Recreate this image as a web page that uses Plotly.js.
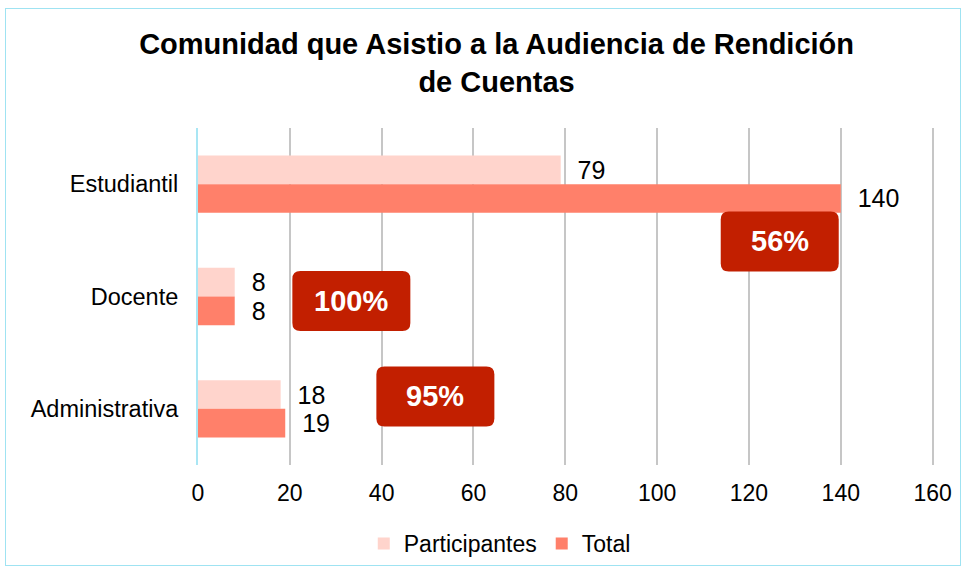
<!DOCTYPE html>
<html>
<head>
<meta charset="utf-8">
<script src="https://cdn.plot.ly/plotly-3.0.1.min.js"></script>
<style>
  html, body { margin: 0; padding: 0; background: #fff; }
  #frame { position: absolute; left: 5px; top: 8px; width: 956px; height: 558px; border: 1px solid #9fe3f2; box-sizing: border-box; }
  #chart { position: absolute; left: 0; top: 0; width: 968px; height: 573px; }
</style>
</head>
<body>
<div id="frame"></div>
<div id="chart"></div>
<script>
const categories = ['Estudiantil', 'Docente', 'Administrativa'];
const participantes = [79, 8, 18];
const total = [140, 8, 19];
const percentLabels = ['56%', '100%', '95%'];
// callout anchor positions (x in value units, y in category index units)
const calloutX = [126.7, 33.4, 51.7];
const calloutY = [0.51, 1.04, 1.89];

const FONT = '"Liberation Sans", Arial, sans-serif';
const RED = '#C21F00';
const PAD = '\u00a0\u00a0';

const traces = [
  {
    type: 'bar', orientation: 'h', name: 'Participantes',
    y: categories, x: participantes,
    marker: { color: '#FFD4CC' },
    text: participantes.map(v => PAD + v), textposition: 'outside',
    textfont: { family: FONT, size: 25, color: '#000' },
    cliponaxis: false
  },
  {
    type: 'bar', orientation: 'h', name: 'Total',
    y: categories, x: total,
    marker: { color: '#FF806A' },
    text: total.map(v => PAD + v), textposition: 'outside',
    textfont: { family: FONT, size: 25, color: '#000' },
    cliponaxis: false
  }
];

const shapes = [];
const annotations = [];
for (let i = 0; i < percentLabels.length; i++) {
  const w = 59, h = 30, r = 8;
  shapes.push({
    type: 'path', xref: 'x', yref: 'y',
    xsizemode: 'pixel', ysizemode: 'pixel',
    xanchor: calloutX[i], yanchor: calloutY[i],
    path: `M ${-w + r},${-h} L ${w - r},${-h} Q ${w},${-h} ${w},${-h + r} L ${w},${h - r} Q ${w},${h} ${w - r},${h} L ${-w + r},${h} Q ${-w},${h} ${-w},${h - r} L ${-w},${-h + r} Q ${-w},${-h} ${-w + r},${-h} Z`,
    fillcolor: RED, line: { width: 0 }, layer: 'above'
  });
  annotations.push({
    xref: 'x', yref: 'y', x: calloutX[i], y: calloutY[i],
    text: '<b>' + percentLabels[i] + '</b>', showarrow: false,
    font: { family: FONT, size: 29, color: '#fff' }
  });
}

const layout = {
  width: 968, height: 573,
  paper_bgcolor: 'rgba(0,0,0,0)', plot_bgcolor: 'rgba(0,0,0,0)',
  margin: { l: 198, r: 34, t: 128, b: 108 },
  font: { family: FONT, size: 23, color: '#000' },
  title: {
    text: '<b>Comunidad que Asistio a la Audiencia de Rendición<br>de Cuentas</b>',
    font: { family: FONT, size: 29, color: '#000' },
    x: 0.513, xanchor: 'center', xref: 'container',
    yref: 'container', y: 0.905, yanchor: 'top'
  },
  barmode: 'group', bargap: 0.49, bargroupgap: 0,
  xaxis: {
    range: [0, 160.3], tickvals: [0, 20, 40, 60, 80, 100, 120, 140, 160],
    showgrid: true, gridcolor: '#C6C6C6', gridwidth: 2, automargin: false,
    zeroline: false, showline: false, ticks: '', ticklabelstandoff: 12,
    tickfont: { family: FONT, size: 23, color: '#000' }
  },
  yaxis: {
    type: 'category', autorange: 'reversed', showgrid: false, zeroline: false,
    showline: true, linecolor: '#A9E6F4', linewidth: 2, ticks: '', ticklen: 0,
    automargin: false,
    tickfont: { family: FONT, size: 23.5, color: '#000' }, ticksuffix: '  '
  },
  legend: {
    orientation: 'h', x: 0.41, xanchor: 'center',
    yref: 'container', y: 0.089, yanchor: 'top',
    font: { family: FONT, size: 23, color: '#000' }, traceorder: 'normal'
  },
  shapes: shapes,
  annotations: annotations,
  showlegend: true
};

Plotly.newPlot('chart', traces, layout, { displayModeBar: false, staticPlot: true });
</script>
</body>
</html>
